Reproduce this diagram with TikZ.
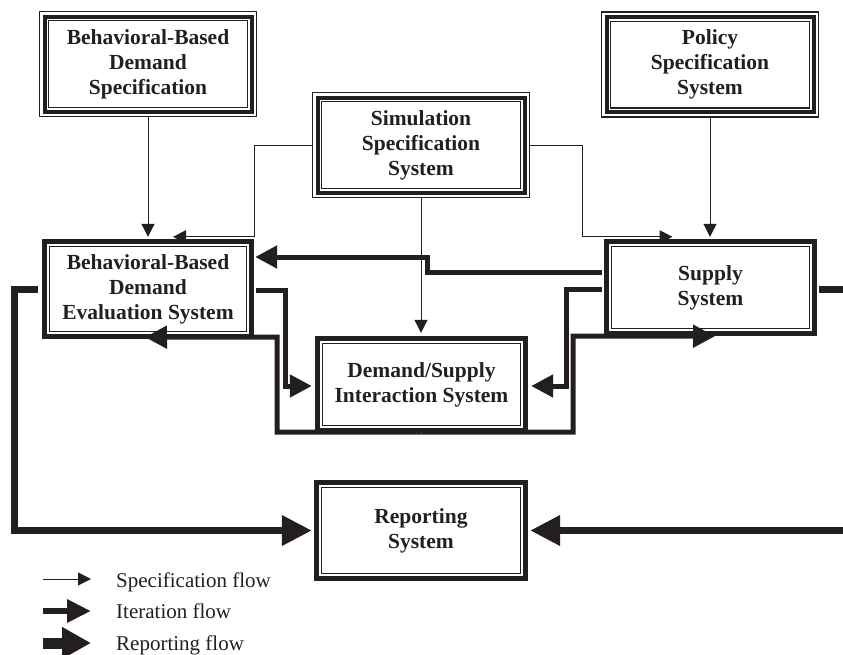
\documentclass[tikz,border=0pt]{standalone}
\usepackage{fontspec}
\setmainfont{Liberation Serif}
\usetikzlibrary{arrows.meta,calc}
\definecolor{ink}{RGB}{35,31,32}
\begin{document}
\begin{tikzpicture}[x=1pt,y=-1pt,
  box/.style={inner sep=0pt, align=center, text=ink,
    font=\fontsize{21.5}{25}\selectfont\bfseries},
  specbox/.style={box, minimum width=218pt, minimum height=106pt},
  sysbox/.style={box},
  specflow/.style={draw=ink, line width=1pt, -{Triangle[length=13pt,width=13pt]}},
  iterflow/.style={draw=ink, line width=5pt, -{Triangle[length=22pt,width=22pt]}},
  repflow/.style={draw=ink, line width=7pt, -{Triangle[length=30pt,width=29pt]}},
  legendtext/.style={anchor=base west, inner sep=0pt, text=ink,
    font=\fontsize{21}{25}\selectfont}
]
% canvas
\fill[white] (0,0) rectangle (843,654);
\useasboundingbox (0,0) rectangle (843,654);
\clip (0,0) rectangle (843,654);

% specification systems
\node[specbox] (bbds)   at (148,64)   {Behavioral-Based\\Demand\\Specification};
\node[specbox] (sim)    at (421,145)  {Simulation\\Specification\\System};
\node[specbox] (policy) at (710,64.5) {Policy\\Specification\\System};

% working systems
\node[sysbox, minimum width=212pt, minimum height=100pt] (bbdes)  at (148,289)
  {Behavioral-Based\\Demand\\Evaluation System};
\node[sysbox, minimum width=213pt, minimum height=97pt]  (dsis)   at (421.5,384.5)
  {Demand/Supply\\Interaction System};
\node[sysbox, minimum width=213pt, minimum height=97pt]  (supply) at (710.5,287.5)
  {Supply\\System};
\node[sysbox, minimum width=214pt, minimum height=101pt] (rep)    at (421,530.5)
  {Reporting\\System};

% triple frames of the specification boxes
\foreach \n in {bbds,sim,policy}{
  \draw[ink, line width=1.5pt] ([shift={(0.75,0.75)}]\n.north west) rectangle ([shift={(-0.75,-0.75)}]\n.south east);
  \draw[ink, line width=4pt]   ([shift={(5.7,5.7)}]\n.north west)   rectangle ([shift={(-5.7,-5.7)}]\n.south east);
  \draw[ink, line width=1.2pt] ([shift={(9.8,9.8)}]\n.north west)   rectangle ([shift={(-9.8,-9.8)}]\n.south east);
}
% heavy frames of the working systems
\foreach \n in {bbdes,dsis,supply,rep}{
  \draw[ink, line width=5.5pt] ([shift={(2.75,2.75)}]\n.north west) rectangle ([shift={(-2.75,-2.75)}]\n.south east);
  \draw[ink, line width=1.3pt] ([shift={(8,8)}]\n.north west)       rectangle ([shift={(-8,-8)}]\n.south east);
}

% specification flows
\draw[specflow] (bbds.south) -- ($(bbdes.north)+(0,-2)$);
\draw[specflow] (policy.south) -- ($(policy.south |- supply.north)+(0,-2)$);
\draw[specflow] (sim.south) -- ($(dsis.north)+(-0.5,-3)$);
\draw[specflow] (sim.west) -| ($(bbdes.north east)+(0,-2)$) -- ($(bbdes.north)+(25,-2)$);
\draw[specflow] (sim.east) -| ($(supply.north west)+(-21,-2)$) -- ($(supply.north)+(-38,-2)$);

% iteration flows
\coordinate (kneeA) at (427,257);
\coordinate (kneeB) at (566,386);
\coordinate (kneeC) at (285,386);
\coordinate (kneeD) at (277,337);
\coordinate (kneeE) at (573,336);
\draw[iterflow] ($(supply.west)+(-2,-15)$) -| (kneeA) -- ($(bbdes.east)+(1,-32)$);
\draw[iterflow] ($(supply.west)+(-2,1.5)$) -| (kneeB) -- ($(dsis.east)+(3,1.5)$);
\draw[iterflow] ($(bbdes.east)+(2,1)$) -| (kneeC) -- ($(dsis.west)+(-3,1.5)$);
\draw[iterflow] ($(dsis.south)+(0,-1)$) -| (kneeD) -- ($(bbdes.south)+(-3,-2)$);
\draw[iterflow] ($(dsis.south)+(0,-1)$) -| (kneeE) -- ($(supply.south)+(4.5,0)$);

% reporting flows
\coordinate (kneeL) at (14.5,530.5);
\coordinate (kneeR) at (846,530.5);
\draw[repflow] ($(bbdes.west)+(-4,0.5)$) -| (kneeL) -- ($(rep.west)+(-2,0)$);
\draw[repflow] ($(supply.east)+(2,2)$) -| (kneeR) -- ($(rep.east)+(2,0)$);

% legend
\coordinate (sA) at (43,579);   \coordinate (sB) at (91,579);
\coordinate (iA) at (43,611);   \coordinate (iB) at (91,611);
\coordinate (rA) at (43,643);   \coordinate (rB) at (91,643);
\draw[specflow] (sA) -- (sB);
\draw[draw=ink, line width=6.5pt, -{Triangle[length=24pt,width=22pt]}] (iA) -- (iB);
\draw[draw=ink, line width=11pt, -{Triangle[length=29pt,width=30pt]}] (rA) -- (rB);
\node[legendtext] (ls) at (116,587) {Specification flow};
\node[legendtext] (li) at (116,618) {Iteration flow};
\node[legendtext] (lr) at (116,650) {Reporting flow};
\end{tikzpicture}
\end{document}
